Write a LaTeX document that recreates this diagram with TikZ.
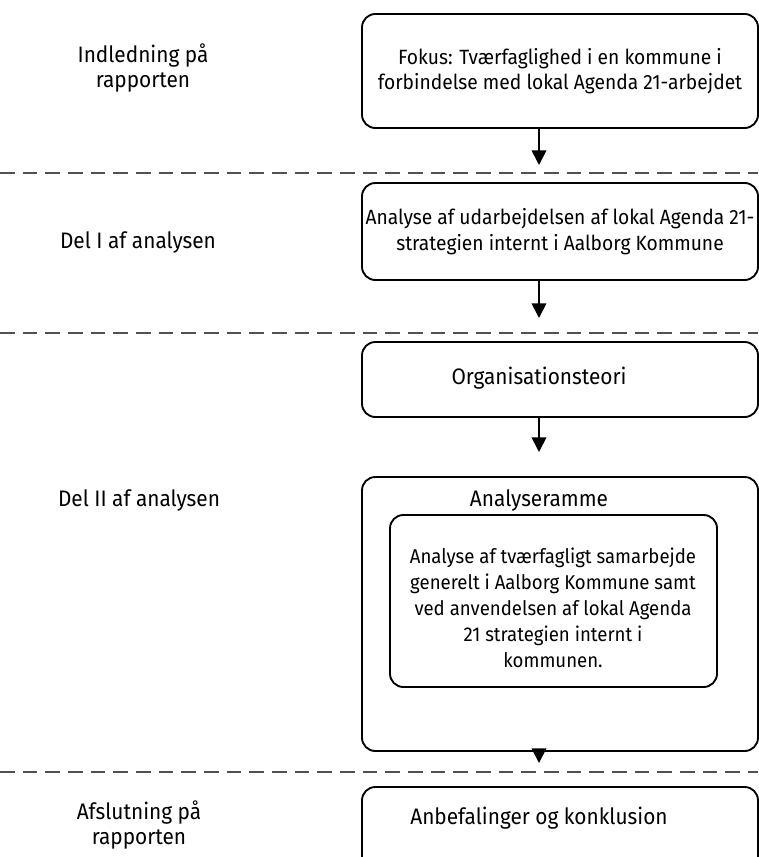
\documentclass[tikz,border=0pt]{standalone}
\usepackage{fontspec}
\setmainfont{Fira Sans}[FakeStretch=0.93]
\usetikzlibrary{arrows.meta}
\definecolor{dashgray}{HTML}{505050}
\newcommand{\boxfont}{\fontsize{15.5}{19}\selectfont}
\newcommand{\labelfont}{\fontsize{16.8}{19}\selectfont}

\begin{document}
\begin{tikzpicture}[x=0.75pt, y=-0.75pt,
  stagebox/.style={draw, rounded corners=10pt, line width=1.4pt, minimum width=297pt, inner sep=0pt},
  boxtext/.style={align=center, font=\boxfont},
  sidetext/.style={align=center, font=\labelfont},
  divider/.style={draw=dashgray, line width=1.5pt, dash pattern=on 11pt off 6pt},
  flow/.style={-{Triangle[width=11pt,length=11pt]}, line width=1.3pt}]
  \useasboundingbox (0,0) rectangle (758,857);

  % left column
  \node[sidetext] (intro) at (143,68) {Indledning på\\rapporten};
  \node[sidetext] (partone) at (138,242) {Del I af analysen};
  \node[sidetext] (parttwo) at (139,500) {Del II af analysen};
  \node[sidetext] (outro) at (139,825) {Afslutning på\\rapporten};

  % dividers
  \foreach \y in {173,333,772}
  {
    \draw[divider] (0,\y) -- (758,\y);
  }

  % boxes
  \node[stagebox, boxtext, minimum height=85.5pt] (focus) at (560,71)
    {Fokus: Tværfaglighed i en kommune i\\forbindelse med lokal Agenda 21-arbejdet};
  \node[stagebox, boxtext, minimum height=72.75pt] (strategy) at (560,231.5)
    {Analyse af udarbejdelsen af lokal Agenda 21-\\strategien internt i Aalborg Kommune};
  \node[stagebox, minimum height=56.25pt] (theory) at (560,379.5) {};
  \node[sidetext] (theorytext) at (539,378) {Organisationsteori};
  \node[stagebox, minimum height=205.5pt] (frame) at (560,614) {};
  \node[sidetext] (frametext) at (539,500) {Analyseramme};
  \node[stagebox, minimum width=245.25pt, minimum height=129pt] (crossfield) at (553.5,601) {};
  \node[boxtext, font=\fontsize{15}{19.5}\selectfont] (crossfieldtext) at (553,608)
    {Analyse af tværfagligt samarbejde\\generelt i Aalborg Kommune samt\\ved anvendelsen af lokal Agenda\\21 strategien internt i\\kommunen.};
  \node[stagebox, minimum height=84.75pt] (advice) at (560,843.5) {};
  \node[sidetext] (advicetext) at (539,818) {Anbefalinger og konklusion};

  % arrows
  \coordinate (tipA) at (539,165);
  \coordinate (tipB) at (539,318);
  \coordinate (tipC) at (539,452);
  \coordinate (tipD) at (539,763);
  \draw[flow] (focus.south -| tipA) -- (tipA);
  \draw[flow] (strategy.south -| tipB) -- (tipB);
  \draw[flow] (theory.south -| tipC) -- (tipC);
  \draw[flow] (frame.south -| tipD) -- (tipD);
\end{tikzpicture}
\end{document}
